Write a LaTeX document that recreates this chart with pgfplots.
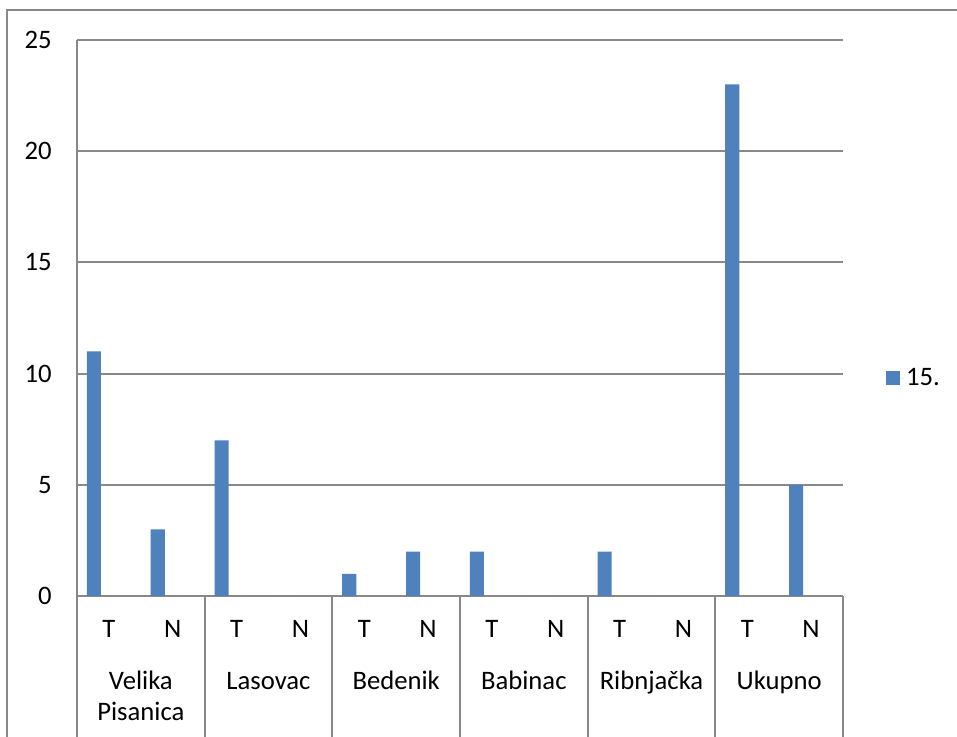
\documentclass[border=0pt]{standalone}
\usepackage{fontspec}
\setmainfont{Carlito}
\usepackage{pgfplots}
\pgfplotsset{compat=1.18}
\definecolor{barblue}{HTML}{4F81BD}
\definecolor{linegray}{HTML}{898989}
\begin{document}
\begin{tikzpicture}
\clip (-57.75pt,-105.75pt) rectangle (660pt,447pt);
% outer chart frame (cropped on the right and bottom)
\draw[linegray,line width=1.5pt] (-52.5pt,-120pt) -- (-52.5pt,439.5pt) -- (700pt,439.5pt);
\begin{axis}[
 at={(0,0)},anchor=south west,
 scale only axis,width=574.5pt,height=417pt,
 font=\fontsize{20}{23.25}\selectfont,
 /pgf/number format/assume math mode=true,
 xmin=-0.5,xmax=11.5,ymin=0,ymax=25,
 ytick={0,5,...,25},
 xtick={0,...,11},xticklabels={T,N,T,N,T,N,T,N,T,N,T,N},
 major tick length=0pt,
 axis x line*=bottom,axis y line*=left,
 axis line style={linegray,line width=1.5pt,-},
 ymajorgrids,grid style={linegray,line width=1.5pt},
 yticklabel style={anchor=east,inner sep=0pt,xshift=-18.75pt},
 xticklabel style={anchor=base,inner sep=0pt,yshift=-31.5pt},
 clip=false,
 legend style={at={(1.056,0.392)},anchor=west,draw=none,fill=none,inner sep=0pt,
   font=\fontsize{20}{23.25}\selectfont},
 legend image code/.code={\path (0pt,0pt) -- (13pt,0pt);
   \fill[barblue] (0pt,-5.25pt) rectangle (10.5pt,5.25pt);},
]
\addplot[ybar,bar width=0.22,bar shift=-0.235,fill=barblue,draw=none] coordinates {
 (0,11) (1,3) (2,7) (3,0) (4,1) (5,2) (6,2) (7,0) (8,2) (9,0) (10,23) (11,5)
};
\addlegendentry{15.}
\foreach \d in {-0.5,1.5,3.5,5.5,7.5,9.5,11.5}{
 \edef\tmp{\noexpand\draw[linegray,line width=1.5pt] (axis cs:\d,0) -- ++(0pt,-130pt);}
 \tmp
}
\path (axis cs:0.5,0) node[yshift=-70.5pt,anchor=base,inner sep=0pt] {Velika};
\path (axis cs:0.5,0) node[yshift=-93.75pt,anchor=base,inner sep=0pt] {Pisanica};
\path (axis cs:2.5,0) node[yshift=-70.5pt,anchor=base,inner sep=0pt] {Lasovac};
\path (axis cs:4.5,0) node[yshift=-70.5pt,anchor=base,inner sep=0pt] {Bedenik};
\path (axis cs:6.5,0) node[yshift=-70.5pt,anchor=base,inner sep=0pt] {Babinac};
\path (axis cs:8.5,0) node[yshift=-70.5pt,anchor=base,inner sep=0pt] {Ribnjačka};
\path (axis cs:10.5,0) node[yshift=-70.5pt,anchor=base,inner sep=0pt] {Ukupno};
\end{axis}
\end{tikzpicture}
\end{document}
